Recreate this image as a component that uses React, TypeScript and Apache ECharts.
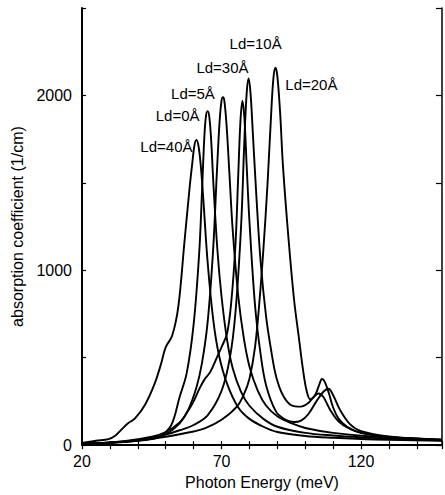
import React, { useEffect, useRef } from "react";
import * as echarts from "echarts";

const xTicks = [20, 70, 120];
const yTicks = [0, 1000, 2000];

const ld40 = [[20,12],[25,25],[29.5,34],[32,55],[34.2,90],[36.5,125],[39,153],[42.6,231],[46,350],[48.3,463],[50,560],[52.3,625],[54.5,790],[56.7,1160],[58.5,1463],[59.5,1610],[60.3,1715],[61,1746],[61.7,1715],[62.5,1610],[63.5,1400],[65,1050],[67,720],[69,520],[72,350],[76,215],[80,150],[85,105],[90,75],[100,52],[110,42],[125,32],[149,24]];
const ld0 = [[20,8],[30,14],[40,24],[45,34],[48,48],[52,115],[55,277],[57.5,410],[60,690],[62,1100],[63,1450],[63.8,1750],[64.4,1880],[65,1910],[65.6,1880],[66.3,1740],[67,1520],[68.5,1120],[70,850],[72,600],[74,440],[77,305],[80,225],[85,150],[90,105],[100,70],[110,55],[125,40],[149,28]];
const ld5 = [[20,6],[35,18],[45,38],[50,62],[55,125],[58,200],[61,330],[63,470],[65,700],[67,1120],[68.3,1550],[69.3,1850],[70,1970],[70.5,1990],[71,1970],[71.8,1830],[72.8,1560],[74,1230],[76,850],[78,610],[80,450],[83,310],[86,225],[90,165],[95,125],[100,98],[110,70],[125,48],[149,32]];
const ld30 = [[20,6],[35,22],[45,48],[50,75],[55,130],[58,195],[60,250],[62,320],[63.8,373],[66,420],[68.4,503],[70,560],[72,640],[73.5,820],[75,1150],[76,1550],[76.8,1860],[77.5,1969],[78.2,1870],[79,1600],[80,1280],[82,800],[84,520],[86,340],[89.6,190],[93,145],[96,132],[98.5,140],[101,175],[104,250],[106.5,305],[108.3,322],[110,285],[112.5,200],[116,120],[120,80],[130,50],[149,30]];
const ld10 = [[20,6],[35,20],[45,42],[50,60],[55,85],[60,115],[65,170],[70,310],[73,500],[75,760],[77,1250],[78.2,1750],[79,2010],[79.7,2097],[80.4,2010],[81.3,1760],[82.5,1420],[84,1050],[86,730],[88,520],[89.6,390],[92,285],[95,228],[98.4,220],[101,240],[103,275],[104.8,295],[106.5,275],[109,200],[112,135],[116,92],[120,70],[130,46],[149,30]];
const ld20 = [[20,5],[40,28],[50,48],[60,78],[64,95],[70,145],[75.5,220],[78,290],[80,380],[82,560],[83.6,825],[85,1120],[86.5,1500],[87.8,1900],[88.6,2100],[89.3,2158],[90,2110],[91,1900],[92,1600],[94,1180],[96,830],[97.7,616],[99.2,430],[100.5,310],[101.8,262],[103.5,285],[105,345],[106,378],[107,362],[108.5,295],[110,215],[112,150],[115,105],[120,70],[130,45],[149,28]];

const curves = [
  { name: "Ld=40Å", data: ld40, peak: [61, 1746], offset: [-30, 7] },
  { name: "Ld=0Å", data: ld0, peak: [65, 1910], offset: [-30, 4] },
  { name: "Ld=5Å", data: ld5, peak: [70.5, 1990], offset: [-30, -4] },
  { name: "Ld=30Å", data: ld30, peak: [77.5, 1969], offset: [-20, -33] },
  { name: "Ld=10Å", data: ld10, peak: [79.7, 2097], offset: [7, -35] },
  { name: "Ld=20Å", data: ld20, peak: [89.3, 2158], offset: [36, 17] },
];

const FONT = "Liberation Sans";

export default function App() {
  const ref = useRef<HTMLDivElement>(null);
  useEffect(() => {
    document.body.style.margin = "0";
    const chart = echarts.init(ref.current!, null, { renderer: "svg" });
    const axisLine = { show: true, lineStyle: { color: "#000", width: 2 } };
    chart.setOption({
      animation: false,
      backgroundColor: "#fff",
      grid: { left: 82, right: -3, top: 8, bottom: 46, containLabel: false },
      xAxis: [
        {
          type: "value", min: 20, max: 149, interval: 10, position: "bottom",
          axisLine, splitLine: { show: false },
          axisTick: { show: true, inside: true, length: 4, lineStyle: { color: "#000", width: 1.2 } },
          axisLabel: {
            color: "#000", fontSize: 16, fontFamily: FONT, margin: 8,
            formatter: (v: number) => (xTicks.includes(v) ? String(v) : ""),
          },
          name: "Photon Energy (meV)", nameLocation: "middle", nameGap: 28,
          nameTextStyle: { color: "#000", fontSize: 16, fontFamily: FONT },
        },
        {
          type: "value", min: 20, max: 149, interval: 10, position: "top",
          axisLine: { show: true, lineStyle: { color: "#000", width: 1.5 } }, splitLine: { show: false },
          axisTick: { show: true, inside: true, length: 4, lineStyle: { color: "#000", width: 1.2 } },
          axisLabel: { show: false },
        },
      ],
      yAxis: [
        {
          type: "value", min: 0, max: 2500, interval: 500, position: "left",
          axisLine, splitLine: { show: false },
          axisTick: { show: true, inside: true, length: 4, lineStyle: { color: "#000", width: 1.2 } },
          axisLabel: {
            color: "#000", fontSize: 16, fontFamily: FONT, margin: 10,
            formatter: (v: number) => (yTicks.includes(v) ? String(v) : ""),
          },
          name: "absorption coefficient (1/cm)", nameLocation: "middle", nameGap: 56,
          nameTextStyle: { color: "#000", fontSize: 16, fontFamily: FONT },
        },
        {
          type: "value", min: 0, max: 2500, interval: 500, position: "right",
          axisLine: { show: true, lineStyle: { color: "#000", width: 1.5 } }, splitLine: { show: false },
          axisTick: { show: true, inside: true, length: 6, lineStyle: { color: "#000", width: 1.2 } },
          axisLabel: { show: false },
        },
      ],
      series: curves.map((c) => ({
        type: "line",
        name: c.name,
        data: c.data,
        showSymbol: false,
        smooth: 0.35,
        lineStyle: { color: "#000", width: 1.9 },
        markPoint: {
          symbol: "circle",
          symbolSize: 1,
          itemStyle: { color: "rgba(0,0,0,0)" },
          label: {
            show: true, position: "inside", offset: c.offset,
            formatter: c.name, color: "#000", fontSize: 15, fontFamily: FONT,
          },
          data: [{ coord: c.peak }],
        },
      })),
    });
    return () => chart.dispose();
  }, []);
  return <div ref={ref} style={{ width: 445, height: 495 }} />;
}
